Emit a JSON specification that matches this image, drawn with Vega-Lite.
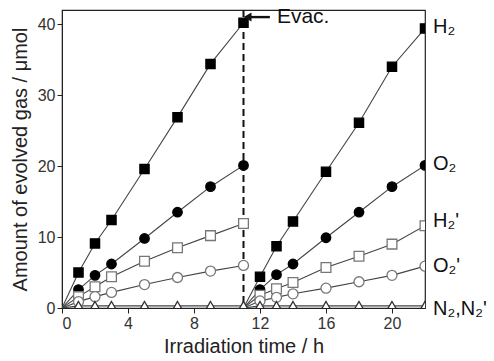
{
  "$schema": "https://vega.github.io/schema/vega-lite/v6.json",
  "width": 363,
  "height": 298,
  "autosize": {"type": "none"},
  "padding": {"left": 62, "top": 10, "right": 69, "bottom": 53},
  "config": {
    "font": "Liberation Sans",
    "view": {"stroke": "#222", "strokeWidth": 1.2},
    "axis": {"domainColor": "#222", "tickColor": "#222", "grid": false, "labelColor": "#333", "labelFontSize": 16, "titleFontSize": 20, "titleFontWeight": "normal", "titleColor": "#222"}
  },
  "datasets": {
    "gas": [
      {"t": 0, "run": 1, "gas": "H2", "v": 0}, {"t": 1, "run": 1, "gas": "H2", "v": 5.0}, {"t": 2, "run": 1, "gas": "H2", "v": 9.1}, {"t": 3, "run": 1, "gas": "H2", "v": 12.4}, {"t": 5, "run": 1, "gas": "H2", "v": 19.6}, {"t": 7, "run": 1, "gas": "H2", "v": 26.9}, {"t": 9, "run": 1, "gas": "H2", "v": 34.4}, {"t": 11, "run": 1, "gas": "H2", "v": 40.2},
      {"t": 0, "run": 1, "gas": "O2", "v": 0}, {"t": 1, "run": 1, "gas": "O2", "v": 2.6}, {"t": 2, "run": 1, "gas": "O2", "v": 4.6}, {"t": 3, "run": 1, "gas": "O2", "v": 6.2}, {"t": 5, "run": 1, "gas": "O2", "v": 9.8}, {"t": 7, "run": 1, "gas": "O2", "v": 13.5}, {"t": 9, "run": 1, "gas": "O2", "v": 17.1}, {"t": 11, "run": 1, "gas": "O2", "v": 20.1},
      {"t": 0, "run": 1, "gas": "H2'", "v": 0}, {"t": 1, "run": 1, "gas": "H2'", "v": 1.6}, {"t": 2, "run": 1, "gas": "H2'", "v": 3.0}, {"t": 3, "run": 1, "gas": "H2'", "v": 4.4}, {"t": 5, "run": 1, "gas": "H2'", "v": 6.6}, {"t": 7, "run": 1, "gas": "H2'", "v": 8.5}, {"t": 9, "run": 1, "gas": "H2'", "v": 10.2}, {"t": 11, "run": 1, "gas": "H2'", "v": 11.9},
      {"t": 0, "run": 1, "gas": "O2'", "v": 0}, {"t": 1, "run": 1, "gas": "O2'", "v": 0.9}, {"t": 2, "run": 1, "gas": "O2'", "v": 1.6}, {"t": 3, "run": 1, "gas": "O2'", "v": 2.2}, {"t": 5, "run": 1, "gas": "O2'", "v": 3.3}, {"t": 7, "run": 1, "gas": "O2'", "v": 4.3}, {"t": 9, "run": 1, "gas": "O2'", "v": 5.2}, {"t": 11, "run": 1, "gas": "O2'", "v": 6.0},
      {"t": 0, "run": 1, "gas": "N2", "v": 0}, {"t": 1, "run": 1, "gas": "N2", "v": 0.3}, {"t": 2, "run": 1, "gas": "N2", "v": 0.3}, {"t": 3, "run": 1, "gas": "N2", "v": 0.3}, {"t": 5, "run": 1, "gas": "N2", "v": 0.3}, {"t": 7, "run": 1, "gas": "N2", "v": 0.3}, {"t": 9, "run": 1, "gas": "N2", "v": 0.3}, {"t": 11, "run": 1, "gas": "N2", "v": 0.3},
      {"t": 11, "run": 2, "gas": "H2", "v": 0}, {"t": 12, "run": 2, "gas": "H2", "v": 4.4}, {"t": 13, "run": 2, "gas": "H2", "v": 8.7}, {"t": 14, "run": 2, "gas": "H2", "v": 12.2}, {"t": 16, "run": 2, "gas": "H2", "v": 19.2}, {"t": 18, "run": 2, "gas": "H2", "v": 26.1}, {"t": 20, "run": 2, "gas": "H2", "v": 34.0}, {"t": 22, "run": 2, "gas": "H2", "v": 39.4},
      {"t": 11, "run": 2, "gas": "O2", "v": 0}, {"t": 12, "run": 2, "gas": "O2", "v": 2.6}, {"t": 13, "run": 2, "gas": "O2", "v": 4.7}, {"t": 14, "run": 2, "gas": "O2", "v": 6.2}, {"t": 16, "run": 2, "gas": "O2", "v": 9.9}, {"t": 18, "run": 2, "gas": "O2", "v": 13.5}, {"t": 20, "run": 2, "gas": "O2", "v": 17.1}, {"t": 22, "run": 2, "gas": "O2", "v": 20.1},
      {"t": 11, "run": 2, "gas": "H2'", "v": 0}, {"t": 12, "run": 2, "gas": "H2'", "v": 1.8}, {"t": 13, "run": 2, "gas": "H2'", "v": 2.7}, {"t": 14, "run": 2, "gas": "H2'", "v": 3.6}, {"t": 16, "run": 2, "gas": "H2'", "v": 5.7}, {"t": 18, "run": 2, "gas": "H2'", "v": 7.3}, {"t": 20, "run": 2, "gas": "H2'", "v": 9.0}, {"t": 22, "run": 2, "gas": "H2'", "v": 11.6},
      {"t": 11, "run": 2, "gas": "O2'", "v": 0}, {"t": 12, "run": 2, "gas": "O2'", "v": 1.0}, {"t": 13, "run": 2, "gas": "O2'", "v": 1.5}, {"t": 14, "run": 2, "gas": "O2'", "v": 2.0}, {"t": 16, "run": 2, "gas": "O2'", "v": 2.8}, {"t": 18, "run": 2, "gas": "O2'", "v": 3.7}, {"t": 20, "run": 2, "gas": "O2'", "v": 4.6}, {"t": 22, "run": 2, "gas": "O2'", "v": 5.9},
      {"t": 11, "run": 2, "gas": "N2", "v": 0}, {"t": 12, "run": 2, "gas": "N2", "v": 0.3}, {"t": 13, "run": 2, "gas": "N2", "v": 0.3}, {"t": 14, "run": 2, "gas": "N2", "v": 0.3}, {"t": 16, "run": 2, "gas": "N2", "v": 0.3}, {"t": 18, "run": 2, "gas": "N2", "v": 0.3}, {"t": 20, "run": 2, "gas": "N2", "v": 0.3}, {"t": 22, "run": 2, "gas": "N2", "v": 0.3}
    ],
    "labels": [
      {"label": "H₂", "v": 39.6},
      {"label": "O₂", "v": 20.3},
      {"label": "H₂'", "v": 12.2},
      {"label": "O₂'", "v": 5.9},
      {"label": "N₂,N₂'", "v": -0.2}
    ],
    "evac": [{"x": 11}],
    "arrow": [{"x": 11.25, "x2": 12.6, "v": 41.0, "label": "Evac."}]
  },
  "layer": [
    {
      "data": {"name": "evac"},
      "mark": {"type": "rule", "strokeDash": [7, 4], "strokeWidth": 2, "color": "#111"},
      "encoding": {
        "x": {"field": "x", "type": "quantitative", "scale": {"domain": [0, 22], "nice": false},
          "axis": {"values": [0, 2, 4, 6, 8, 10, 12, 14, 16, 18, 20, 22], "labelExpr": "datum.value % 4 === 0 ? datum.label : ''",
            "tickSize": {"condition": {"test": "datum.value % 4 === 0", "value": 5}, "value": 3},
            "labelPadding": 2, "title": "Irradiation time / h", "titlePadding": 5}}
      }
    },
    {
      "data": {"name": "gas"},
      "mark": {"type": "line", "color": "#444", "strokeWidth": 1.1, "clip": true},
      "encoding": {
        "x": {"field": "t", "type": "quantitative"},
        "y": {"field": "v", "type": "quantitative", "scale": {"domain": [0, 42], "nice": false},
          "axis": {"values": [0, 5, 10, 15, 20, 25, 30, 35, 40], "labelExpr": "datum.value % 10 === 0 ? datum.label : ''",
            "tickSize": {"condition": {"test": "datum.value % 10 === 0", "value": 5}, "value": 3},
            "labelPadding": 2, "title": "Amount of evolved gas  / μmol", "titlePadding": 7}},
        "detail": [{"field": "gas"}, {"field": "run"}]
      }
    },
    {
      "data": {"name": "gas"},
      "transform": [{"filter": "datum.t != 0 && !(datum.run == 2 && datum.t == 11)"}],
      "mark": {"type": "point", "opacity": 1, "strokeWidth": 1.3, "clip": true},
      "encoding": {
        "x": {"field": "t", "type": "quantitative"},
        "y": {"field": "v", "type": "quantitative"},
        "shape": {"field": "gas", "type": "nominal", "legend": null, "scale": {"domain": ["H2", "O2", "H2'", "O2'", "N2"], "range": ["square", "circle", "square", "circle", "triangle-up"]}},
        "fill": {"field": "gas", "type": "nominal", "legend": null, "scale": {"domain": ["H2", "O2", "H2'", "O2'", "N2"], "range": ["#000", "#000", "#fff", "#fff", "#fff"]}},
        "stroke": {"field": "gas", "type": "nominal", "legend": null, "scale": {"domain": ["H2", "O2", "H2'", "O2'", "N2"], "range": ["#000", "#000", "#777", "#777", "#333"]}},
        "size": {"field": "gas", "type": "nominal", "legend": null, "scale": {"domain": ["H2", "O2", "H2'", "O2'", "N2"], "range": [85, 105, 75, 100, 55]}}
      }
    },
    {
      "data": {"name": "arrow"},
      "mark": {"type": "rule", "strokeWidth": 2.4, "color": "#111"},
      "encoding": {
        "x": {"field": "x", "type": "quantitative"},
        "x2": {"field": "x2"},
        "y": {"field": "v", "type": "quantitative"}
      }
    },
    {
      "data": {"name": "arrow"},
      "mark": {"type": "point", "shape": "triangle-left", "filled": true, "color": "#111", "size": 80, "opacity": 1},
      "encoding": {
        "x": {"field": "x", "type": "quantitative"},
        "y": {"field": "v", "type": "quantitative"}
      }
    },
    {
      "data": {"name": "arrow"},
      "mark": {"type": "text", "align": "left", "baseline": "middle", "fontSize": 21, "dx": 7, "color": "#111"},
      "encoding": {
        "x": {"field": "x2", "type": "quantitative"},
        "y": {"field": "v", "type": "quantitative"},
        "text": {"field": "label"}
      }
    },
    {
      "data": {"name": "labels"},
      "mark": {"type": "text", "align": "left", "baseline": "middle", "fontSize": 20, "dx": 8, "color": "#111"},
      "encoding": {
        "x": {"datum": 22, "type": "quantitative"},
        "y": {"field": "v", "type": "quantitative"},
        "text": {"field": "label"}
      }
    }
  ]
}
